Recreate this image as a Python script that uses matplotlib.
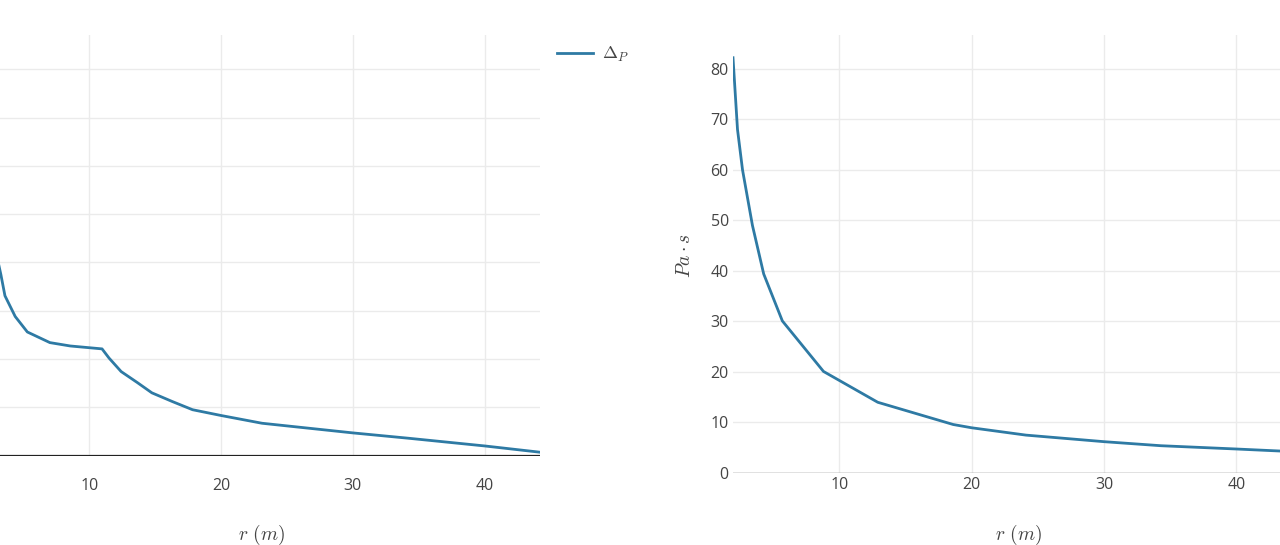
import matplotlib.pyplot as plt

plt.rcParams['font.family'] = ['Open Sans', 'DejaVu Sans']
plt.rcParams['mathtext.fontset'] = 'cm'

# left panel: Delta_P vs r (y tick labels are cropped off in the reference)
r_dp = [2.6, 3.28, 3.59, 4.37, 5.29, 7.0, 8.55, 10.96, 11.49, 12.41, 13.65, 14.74,
        16.29, 17.83, 20.0, 23.1, 30.0, 34.2, 40.0, 44.2]
dp = [4.6, 3.75, 3.31, 2.88, 2.56, 2.34, 2.27, 2.21, 2.02, 1.74, 1.51, 1.30,
      1.12, 0.95, 0.83, 0.67, 0.47, 0.36, 0.20, 0.07]

# right panel: Pa*s vs r
r_pa = [1.96, 2.3, 2.68, 3.43, 4.28, 5.69, 8.8, 12.9, 18.6, 20.0, 24.1, 30.0,
        34.3, 40.0, 43.3]
pa = [82.2, 68.0, 60.0, 49.0, 39.4, 30.1, 20.1, 14.0, 9.6, 8.95, 7.5, 6.2,
      5.4, 4.75, 4.35]

line_col = '#2e7aa4'
grid_col = '#ebebeb'
tick_col = '#444444'
W, H = 1280, 545

fig = plt.figure(figsize=(12.8, 5.45), dpi=100)

def px_axes(x0, x1, y0, y1):
    return fig.add_axes([x0 / W, 1 - y1 / H, (x1 - x0) / W, (y1 - y0) / H])

ax1 = px_axes(-16, 540, 35, 455.6)
ax2 = px_axes(733, 1280, 35, 473)

for ax in (ax1, ax2):
    for s in ax.spines.values():
        s.set_visible(False)
    ax.grid(True, color=grid_col, lw=1)
    ax.set_axisbelow(True)
    ax.tick_params(length=0, colors=tick_col, labelsize=11.5)
    ax.set_xticks([10, 20, 30, 40])

ax1.plot(r_dp, dp, color=line_col, lw=2, label=r'$\Delta_P$')
ax1.axhline(0, color='#222222', lw=1.6)
ax1.set_xlim(2.0, 44.2)
ax1.set_ylim(0, 8.71)
ax1.set_yticks(range(0, 9))
ax1.set_yticklabels([])
ax1.tick_params(axis='x', pad=16)

ax2.plot(r_pa, pa, color=line_col, lw=2)
ax2.axhline(0, color='#777777', lw=1)
ax2.set_xlim(1.96, 43.3)
ax2.set_ylim(0, 86.7)
ax2.set_yticks(range(0, 81, 10))
ax2.tick_params(axis='x', pad=3)
ax2.tick_params(axis='y', pad=3)

# axis titles
fig.text(261 / W, 1 - 535 / H, r'$r\ (m)$', fontsize=14, color=tick_col,
         ha='center', va='center')
fig.text(1018 / W, 1 - 535 / H, r'$r\ (m)$', fontsize=14, color=tick_col,
         ha='center', va='center')
fig.text(685 / W, 1 - 255 / H, r'$Pa\cdot s$', fontsize=14, color=tick_col,
         ha='center', va='center', rotation=90)

fig.legend(loc='upper left', bbox_to_anchor=(541 / W, 1 - 29 / H), frameon=False,
           fontsize=13, handlelength=2.0, handletextpad=0.5, labelcolor=tick_col)

fig.savefig('out.png', dpi=100)
